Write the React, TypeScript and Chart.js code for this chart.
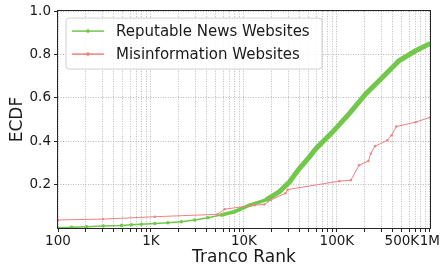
import React, { useEffect, useRef } from 'react';
import { Chart, registerables } from 'chart.js';

Chart.register(...registerables);

const SERIES_LABELS = ['Reputable News Websites', 'Misinformation Websites'];

const GREEN_RANKS = [100, 140, 203, 306, 482, 617, 790, 1100, 1520, 2120, 2950, 4100, 5700, 7900, 11500, 17300, 24000, 30800, 39400, 50400, 59400, 89600, 135000, 204000, 308000, 465000, 703000, 1000000];
const GREEN_ECDF = [0.001, 0.003, 0.006, 0.009, 0.012, 0.015, 0.017, 0.021, 0.024, 0.029, 0.037, 0.047, 0.06, 0.075, 0.105, 0.13, 0.167, 0.212, 0.274, 0.327, 0.366, 0.442, 0.526, 0.618, 0.694, 0.771, 0.817, 0.85];

const RED_RANKS = [100, 306, 1100, 5200, 6200, 13000, 16600, 19600, 27900, 29500, 106000, 141000, 173000, 218000, 231000, 257000, 348000, 388000, 435000, 703000, 1000000];
const RED_ECDF = [0.037, 0.041, 0.052, 0.063, 0.087, 0.105, 0.109, 0.13, 0.16, 0.177, 0.216, 0.22, 0.289, 0.309, 0.343, 0.377, 0.404, 0.428, 0.468, 0.488, 0.51];

const X_LABEL_VALUES = [100, 1000, 10000, 100000, 500000, 1000000];
const X_LABEL_TEXT = ['100', '1K', '10K', '100K', '500K', '1M'];
const Y_TICKS = [0.2, 0.4, 0.6, 0.8, 1.0];

const GREEN = '#72c84a';
const RED = '#f08080';
const FONT = 'DejaVu Sans';

// positions of the log-scale grid lines (1..9 x 10^n)
const X_GRID_VALUES: number[] = [];
for (let e = 2; e <= 5; e++) {
  for (let m = 1; m <= 9; m++) X_GRID_VALUES.push(m * Math.pow(10, e));
}
X_GRID_VALUES.push(1000000);

const framePlugin = {
  id: 'frame',
  afterDatasetsDraw(chart: any) {
    const { left, top, right, bottom } = chart.chartArea;
    const ctx = chart.ctx;
    ctx.save();
    ctx.strokeStyle = '#262626';
    ctx.lineWidth = 1;
    ctx.strokeRect(Math.round(left) - 0.5, Math.round(top) - 0.5, Math.round(right - left) + 1, Math.round(bottom - top) + 1);
    ctx.restore();
  },
};

const legendPlugin = {
  id: 'boxLegend',
  afterDraw(chart: any) {
    const ctx = chart.ctx;
    const { left, top } = chart.chartArea;
    const bx = left + 8;
    const by = top + 7;
    const bw = 256;
    const bh = 51;
    const r = 3;
    ctx.save();
    ctx.beginPath();
    ctx.moveTo(bx + r, by);
    ctx.lineTo(bx + bw - r, by);
    ctx.arcTo(bx + bw, by, bx + bw, by + r, r);
    ctx.lineTo(bx + bw, by + bh - r);
    ctx.arcTo(bx + bw, by + bh, bx + bw - r, by + bh, r);
    ctx.lineTo(bx + r, by + bh);
    ctx.arcTo(bx, by + bh, bx, by + bh - r, r);
    ctx.lineTo(bx, by + r);
    ctx.arcTo(bx, by, bx + r, by, r);
    ctx.closePath();
    ctx.fillStyle = 'rgba(255,255,255,0.85)';
    ctx.fill();
    ctx.strokeStyle = '#d0d0d0';
    ctx.lineWidth = 1;
    ctx.stroke();
    chart.data.datasets.forEach((ds: any, i: number) => {
      const y = by + 13 + i * 23;
      ctx.strokeStyle = ds.borderColor;
      ctx.lineWidth = 1.5;
      ctx.beginPath();
      ctx.moveTo(bx + 6, y);
      ctx.lineTo(bx + 38, y);
      ctx.stroke();
      ctx.fillStyle = ds.borderColor;
      ctx.beginPath();
      ctx.arc(bx + 22, y, 1.8, 0, Math.PI * 2);
      ctx.fill();
      ctx.fillStyle = '#1a1a1a';
      ctx.font = `15px "${FONT}"`;
      ctx.textBaseline = 'middle';
      ctx.textAlign = 'left';
      ctx.fillText(ds.label, bx + 50, y + 1);
    });
    ctx.restore();
  },
};

export default function App() {
  const ref = useRef<HTMLCanvasElement | null>(null);

  useEffect(() => {
    if (!ref.current) return;
    const chart = new Chart(ref.current, {
      type: 'line',
      data: {
        datasets: [
          {
            label: SERIES_LABELS[0],
            data: GREEN_RANKS.map((x, i) => ({ x, y: GREEN_ECDF[i] })),
            borderColor: GREEN,
            backgroundColor: GREEN,
            borderWidth: 1.5,
            pointRadius: 1.8,
            pointBorderWidth: 0,
            pointBackgroundColor: GREEN,
            tension: 0,
            order: 1,
            segment: {
              borderWidth: (c: any) => (c.p0.parsed.x >= 15000 ? 5 : c.p0.parsed.x >= 5000 ? 3.5 : 1.5),
            },
          } as any,
          {
            label: SERIES_LABELS[1],
            data: RED_RANKS.map((x, i) => ({ x, y: RED_ECDF[i] })),
            borderColor: RED,
            backgroundColor: RED,
            borderWidth: 1,
            pointRadius: 1.2,
            pointBorderWidth: 0,
            pointBackgroundColor: RED,
            tension: 0,
            order: 0,
          },
        ],
      },
      options: {
        animation: false,
        responsive: false,
        maintainAspectRatio: false,
        layout: { padding: { top: 10, right: 10, left: 0, bottom: 0 } },
        plugins: { legend: { display: false }, tooltip: { enabled: false } },
        scales: {
          x: {
            type: 'logarithmic',
            min: 100,
            max: 1000000,
            afterBuildTicks: (s: any) => {
              s.ticks = X_GRID_VALUES.map((v) => ({ value: v }));
            },
            afterFit: (s: any) => {
              s.height = 43;
            },
            ticks: {
              autoSkip: false,
              maxRotation: 0,
              minRotation: 0,
              padding: 1,
              color: '#1a1a1a',
              font: { family: FONT, size: 13.5 },
              callback: (v: any) => {
                const idx = X_LABEL_VALUES.indexOf(Number(v));
                return idx >= 0 ? X_LABEL_TEXT[idx] : '';
              },
            },
            grid: {
              color: '#aaaaaa',
              lineWidth: 0.8,
              drawTicks: true,
              tickLength: 4,
              tickColor: '#262626',
              tickWidth: 1,
              tickBorderDash: [],
            },
            border: { display: false, dash: [1, 1.5] },
            title: {
              display: true,
              text: 'Tranco Rank',
              color: '#1a1a1a',
              font: { family: FONT, size: 17 },
              padding: { top: 0, bottom: 3 },
            },
          },
          y: {
            type: 'linear',
            min: 0,
            max: 1,
            afterBuildTicks: (s: any) => {
              s.ticks = [0, ...Y_TICKS].map((v) => ({ value: v }));
            },
            afterFit: (s: any) => {
              s.width = 58;
            },
            ticks: {
              padding: 3,
              color: '#1a1a1a',
              font: { family: FONT, size: 13.5 },
              callback: (v: any) => (Y_TICKS.indexOf(Number(v)) >= 0 ? Number(v).toFixed(1) : ''),
            },
            grid: {
              color: (c: any) => (c.tick && c.tick.value === 0 ? 'rgba(0,0,0,0)' : '#aaaaaa'),
              lineWidth: 0.8,
              drawTicks: true,
              tickLength: 4,
              tickColor: (c: any) => (c.tick && c.tick.value === 0 ? 'rgba(0,0,0,0)' : '#262626'),
              tickWidth: 1,
              tickBorderDash: [],
            },
            border: { display: false, dash: [1, 1.5] },
            title: {
              display: true,
              text: 'ECDF',
              color: '#1a1a1a',
              font: { family: FONT, size: 17 },
              padding: { top: 7.5, bottom: 0 },
            },
          },
        },
      } as any,
      plugins: [framePlugin, legendPlugin],
    });
    return () => chart.destroy();
  }, []);

  return (
    <div style={{ position: 'absolute', left: 0, top: 0, width: 441, height: 271 }}>
      <canvas ref={ref} width={441} height={271} style={{ width: 441, height: 271, display: 'block' }} />
    </div>
  );
}
